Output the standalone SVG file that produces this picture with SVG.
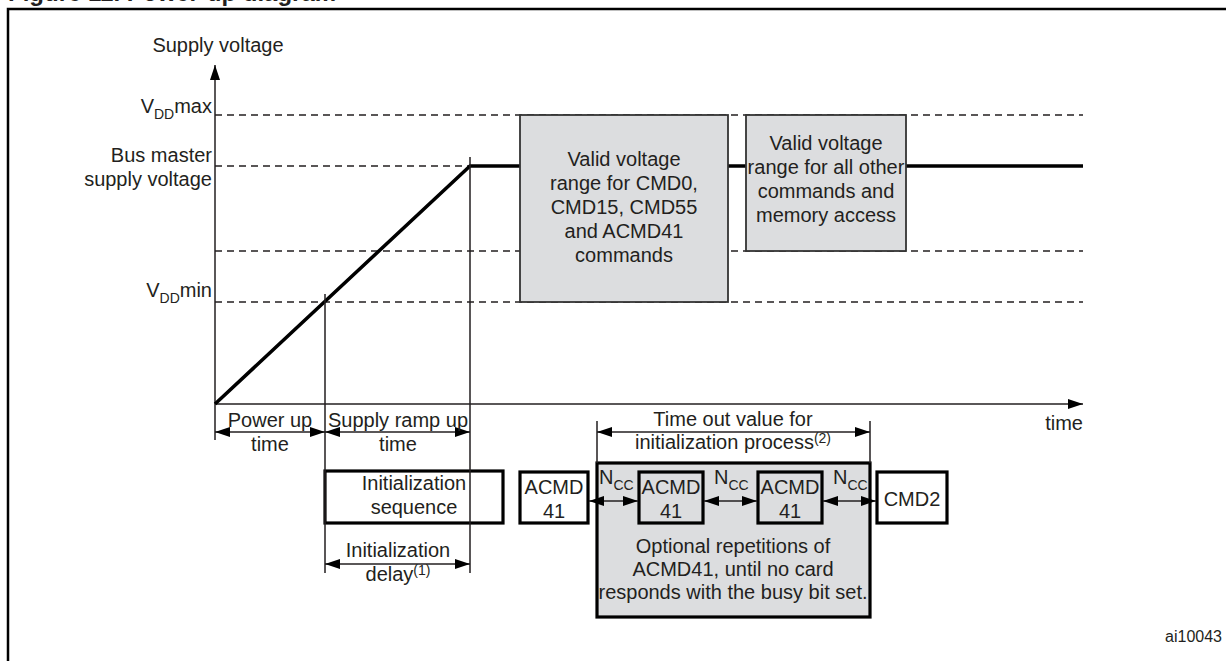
<svg xmlns="http://www.w3.org/2000/svg" width="1226" height="661" viewBox="0 0 1226 661">
<style>
text{font-family:"Liberation Sans",Arial,sans-serif;font-size:20px;fill:#231f20}
.c{text-anchor:middle}
.e{text-anchor:end}
.sub{font-size:14px}
.dash{stroke:#231f20;stroke-width:1.5;stroke-dasharray:7 5;fill:none}
.thin{stroke:#231f20;stroke-width:1.5;fill:none}
.thick{stroke:#000;stroke-width:3.5;fill:none}
.gray{fill:#dcdddf;stroke:#333;stroke-width:1.8}
.box{fill:#fff;stroke:#000;stroke-width:3.2}
.gbox{fill:#dcdddf;stroke:#000;stroke-width:3.2}
</style>
<defs>
<marker id="ah" markerUnits="userSpaceOnUse" markerWidth="15" markerHeight="10" refX="15" refY="5" orient="auto-start-reverse">
<path d="M0,0 L15,5 L0,10 z" fill="#000"/>
</marker>
</defs>
<rect width="1226" height="661" fill="#fff"/>
<text x="8" y="1" style="font-weight:bold;font-size:24px">Figure 11. Power-up diagram</text>
<path d="M8,661 V9 H1226" fill="none" stroke="#000" stroke-width="2.5"/>

<g id="axes">
<path class="thin" d="M215,404 V65" marker-end="url(#ah)"/>
<path class="thin" d="M215,404 H1083" marker-end="url(#ah)"/>
<text class="c" x="218" y="52">Supply voltage</text>
<text class="e" x="1083" y="430">time</text>
</g>

<g id="levels">
<path class="dash" d="M215,115 H1083 M215,166 H1083 M215,251 H1083 M215,302 H1083"/>
<text class="e" x="212" y="113">V<tspan class="sub" dy="6">DD</tspan><tspan dy="-6">max</tspan></text>
<text class="e" x="212" y="162">Bus master</text>
<text class="e" x="212" y="186">supply voltage</text>
<text class="e" x="212" y="297">V<tspan class="sub" dy="6">DD</tspan><tspan dy="-6">min</tspan></text>
</g>

<g id="supply">
<path class="thick" d="M215,404 L470,166 H1083"/>
</g>

<g id="range1">
<rect class="gray" x="520" y="115" width="208" height="187"/>
<text class="c" x="624" y="166">Valid voltage</text>
<text class="c" x="624" y="190">range for CMD0,</text>
<text class="c" x="624" y="214">CMD15, CMD55</text>
<text class="c" x="624" y="238">and ACMD41</text>
<text class="c" x="624" y="262">commands</text>
</g>

<g id="range2">
<rect class="gray" x="746" y="115" width="160" height="136"/>
<text class="c" x="826" y="150">Valid voltage</text>
<text class="c" x="826" y="174">range for all other</text>
<text class="c" x="826" y="198">commands and</text>
<text class="c" x="826" y="222">memory access</text>
</g>

<g id="initseq">
<rect class="box" x="325" y="471" width="178" height="52"/>
<text class="c" x="414" y="490">Initialization</text>
<text class="c" x="414" y="514">sequence</text>
</g>

<g id="optional">
<rect class="gbox" x="597" y="463" width="273" height="154"/>
<text class="c" x="733" y="553">Optional repetitions of</text>
<text class="c" x="733" y="576">ACMD41, until no card</text>
<text class="c" x="733" y="599">responds with the busy bit set.</text>
</g>

<g id="acmd41a">
<rect class="box" x="520" y="472" width="68" height="51"/>
<text class="c" x="554" y="494">ACMD</text>
<text class="c" x="554" y="518">41</text>
</g>
<g id="acmd41b">
<rect class="gbox" x="639" y="472" width="64" height="51"/>
<text class="c" x="671" y="494">ACMD</text>
<text class="c" x="671" y="518">41</text>
</g>
<g id="acmd41c">
<rect class="gbox" x="758" y="472" width="64" height="51"/>
<text class="c" x="790" y="494">ACMD</text>
<text class="c" x="790" y="518">41</text>
</g>
<g id="cmd2">
<rect class="box" x="877" y="472" width="70" height="51"/>
<text class="c" x="912" y="506">CMD2</text>
</g>

<g id="connectors">
<path class="thin" d="M325,294 V573 M470,157 V573 M215,404 V440 M597,421 V463 M870,421 V463"/>
<path class="thin" d="M215,432 H325" marker-start="url(#ah)" marker-end="url(#ah)"/>
<path class="thin" d="M325,432 H470" marker-start="url(#ah)" marker-end="url(#ah)"/>
<path class="thin" d="M325,564 H470" marker-start="url(#ah)" marker-end="url(#ah)"/>
<path class="thin" d="M597,432 H870" marker-start="url(#ah)" marker-end="url(#ah)"/>
<path class="thin" d="M589,501 H638" marker-start="url(#ah)" marker-end="url(#ah)"/>
<path class="thin" d="M704,501 H757" marker-start="url(#ah)" marker-end="url(#ah)"/>
<path class="thin" d="M823,501 H876" marker-start="url(#ah)" marker-end="url(#ah)"/>
</g>

<g id="labels">
<text class="c" x="270" y="427">Power up</text>
<text class="c" x="270" y="451">time</text>
<text class="c" x="398" y="427">Supply ramp up</text>
<text class="c" x="398" y="451">time</text>
<text class="c" x="398" y="557">Initialization</text>
<text class="c" x="398" y="581">delay<tspan class="sub" dy="-6">(1)</tspan></text>
<text class="c" x="733" y="426">Time out value for</text>
<text class="c" x="733" y="449">initialization process<tspan class="sub" dy="-6">(2)</tspan></text>
<text x="599" y="484">N<tspan class="sub" dy="6">CC</tspan></text>
<text x="714" y="484">N<tspan class="sub" dy="6">CC</tspan></text>
<text x="833" y="484">N<tspan class="sub" dy="6">CC</tspan></text>
<text class="e" x="1222" y="642" style="font-size:16px">ai10043</text>
</g>
</svg>
